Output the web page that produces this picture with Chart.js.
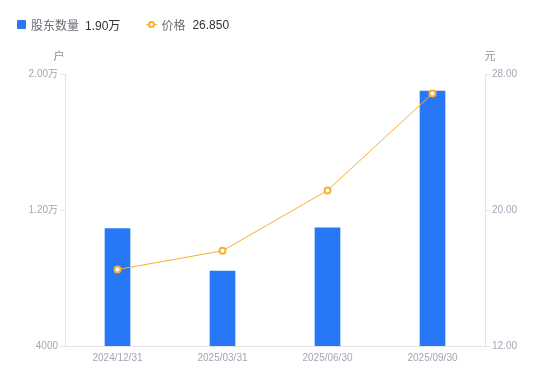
<!DOCTYPE html>
<html>
<head>
<meta charset="utf-8">
<script src="https://cdn.jsdelivr.net/npm/chart.js@4.4.1/dist/chart.umd.min.js"></script>
<style>
    html, body { margin: 0; padding: 0; background: #fff; }
    #wrap { position: relative; width: 550px; height: 381px; }
    #legend { position: absolute; left: 17px; top: 16px; font: 12px 'Liberation Sans', 'Noto Sans CJK SC', sans-serif; display: flex; align-items: center; white-space: nowrap; }
    .sq { display: inline-block; width: 9px; height: 9px; background: #2777f6; border-radius: 1px; margin-right: 5px; }
    .ln { display: inline-block; position: relative; width: 11px; height: 9px; margin-right: 4px; }
    .ln:before { content: ''; position: absolute; left: 0; right: 0; top: 4px; height: 1px; background: #f7b030; }
    .ln:after { content: ''; position: absolute; left: 2px; top: 1px; width: 3px; height: 3px; border: 2px solid #f7b030; border-radius: 50%; background: #fff; }
    .name { color: #6b6b75; margin-right: 6px; }
    .val { color: #333; }
</style>
</head>
<body>
<div id="wrap">
    <div id="legend">
        <span class="sq"></span><span class="name">股东数量</span><span class="val" style="margin-right:26px">1.90万</span>
        <span class="ln"></span><span class="name" style="margin-right:7px">价格</span><span class="val">26.850</span>
    </div>
    <canvas id="myChart" width="550" height="381"></canvas>
</div>
<script>
const dates = ['2024/12/31', '2025/03/31', '2025/06/30', '2025/09/30'];
const holders = [10900, 8400, 10950, 19000];
const prices = [16.5, 17.6, 21.15, 26.85];
const leftTicks = [4000, 12000, 20000];
const rightTicks = [12, 20, 28];

const tickColor = '#a3a6b4';
const lineGray = '#e3e3e8';
const font = { family: "'Liberation Sans', 'Noto Sans CJK SC', sans-serif", size: 10 };

function fmtHolders(v) {
    if (v >= 10000) return (v / 10000).toFixed(2) + '万';
    return String(v);
}

const unitTitles = {
    id: 'unitTitles',
    afterDraw(chart) {
        const c = chart.ctx;
        const yl = chart.scales.y;
        const yr = chart.scales.y1;
        c.save();
        c.font = "11px 'Liberation Sans', 'Noto Sans CJK SC', sans-serif";
        c.fillStyle = '#8e909c';
        c.textAlign = 'center';
        c.textBaseline = 'middle';
        c.fillText('户', yl.right - 6, 57);
        c.fillText('元', yr.left + 5, 57);
        c.restore();
    }
};

const ctx = document.getElementById('myChart').getContext('2d');
const myChart = new Chart(ctx, {
    type: 'bar',
    data: {
        labels: dates,
        datasets: [
            {
                type: 'line',
                label: '价格',
                data: prices,
                yAxisID: 'y1',
                borderColor: '#f7b030',
                backgroundColor: '#fff',
                borderWidth: 1,
                pointRadius: 3,
                pointBorderWidth: 2,
                pointBorderColor: '#f7b030',
                pointBackgroundColor: '#fff',
                tension: 0,
                order: 0
            },
            {
                type: 'bar',
                label: '股东数量',
                data: holders,
                yAxisID: 'y',
                backgroundColor: '#2777f6',
                barThickness: 25,
                order: 1
            }
        ]
    },
    options: {
        responsive: false,
        animation: false,
        layout: { padding: { top: 74, left: 0, right: 0, bottom: 0 } },
        plugins: { legend: { display: false }, tooltip: { enabled: false } },
        scales: {
            x: {
                grid: { display: false, drawTicks: false },
                border: { display: true, color: lineGray },
                ticks: { color: tickColor, font: font, padding: 6, maxRotation: 0 },
                afterFit(s) { s.height = 35; }
            },
            y: {
                position: 'left',
                min: 4000,
                max: 20000,
                afterBuildTicks(s) { s.ticks = leftTicks.map(v => ({ value: v })); },
                grid: { drawOnChartArea: false, drawTicks: true, tickLength: 5, color: lineGray },
                border: { display: true, color: lineGray },
                ticks: { color: tickColor, font: font, padding: 2, callback: v => fmtHolders(v) },
                afterFit(s) { s.width = 65; }
            },
            y1: {
                position: 'right',
                min: 12,
                max: 28,
                afterBuildTicks(s) { s.ticks = rightTicks.map(v => ({ value: v })); },
                grid: { drawOnChartArea: false, drawTicks: true, tickLength: 5, color: lineGray },
                border: { display: true, color: lineGray },
                ticks: { color: tickColor, font: font, padding: 2, callback: v => Number(v).toFixed(2) },
                afterFit(s) { s.width = 65; }
            }
        }
    },
    plugins: [unitTitles]
});
</script>
</body>
</html>
